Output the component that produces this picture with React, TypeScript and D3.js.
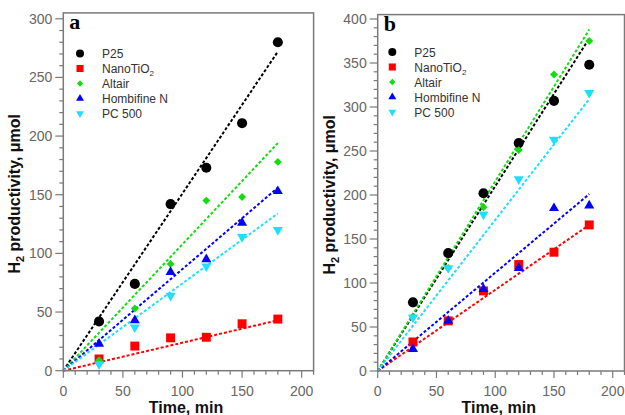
import React from "react";
import * as d3 from "d3";

const times = [30, 60, 90, 120, 150, 180];
const seriesNames = ["P25", "NanoTiO2", "Altair", "Hombifine N", "PC 500"];
const seriesColors = ["#000000", "#ff0000", "#11dd11", "#0000ff", "#22ddff"];
const seriesShapes = ["circle", "square", "diamond", "up", "down"];

// Panel a values
const aP25 = [42, 74, 142, 173, 211, 280];
const aNano = [10, 21, 28, 28.5, 40, 44];
const aAltair = [9, 53, 91, 145, 148, 178];
const aHombi = [23, 43, 84, 95, 126, 153];
const aPC500 = [5.5, 37, 64, 89, 114, 120];
// Fit line values at t = 180 (panel a)
const aFitEnd = [272, 43, 194, 156, 134];

// Panel b values
const bP25 = [78, 134, 202, 259, 307, 348];
const bNano = [33, 57, 91, 121, 135, 166];
const bAltair = [62, 117, 186, 251, 337, 375];
const bHombi = [25, 57, 93, 117, 185, 188];
const bPC500 = [61, 117, 178, 218, 263, 316];
const bFitEnd = [378, 166, 388, 201, 309];

const xTicks = [0, 50, 100, 150, 200];
const aYTicks = [0, 50, 100, 150, 200, 250, 300];
const bYTicks = [0, 50, 100, 150, 200, 250, 300, 350, 400];

const fitStart = 0;
const fitStop = 180;

const symbolMap: any = {
  circle: d3.symbolCircle,
  square: d3.symbolSquare,
  diamond: d3.symbolDiamond2,
  up: d3.symbolTriangle,
  down: d3.symbolTriangle,
};
const areaFactor: any = { circle: 1, square: 1, diamond: 0.5, up: 0.55, down: 0.55 };

function Marker({ shape, color, x, y, size }: any) {
  const rot = shape === "down" ? 180 : 0;
  const d = d3.symbol(symbolMap[shape], size * areaFactor[shape])() as string;
  return <path d={d} transform={`translate(${x},${y}) rotate(${rot})`} fill={color} />;
}

function Panel({ label, series, fitEnd, yMax, yTicks, x0, x1, y0, y1, titleX, legendX, legendY }: any) {
  const x = d3.scaleLinear().domain([0, 210]).range([x0, x1]);
  const y = d3.scaleLinear().domain([0, yMax]).range([y0, y1]);
  const gray = "#7a7a7a";
  const minorX = d3.range(0, 211, 10);
  const minorY = d3.range(0, yMax + 1, 10);
  const line = d3.line<[number, number]>().x((d) => x(d[0])).y((d) => y(d[1]));
  const midY = (y0 + y1) / 2;
  return (
    <g>
      {fitEnd.map((v: number, i: number) => (
        <path
          key={"f" + i}
          d={line([
            [fitStart, 0],
            [fitStop, v],
          ]) as string}
          stroke={seriesColors[i]}
          strokeWidth={2}
          strokeDasharray="3,2"
          fill="none"
        />
      ))}
      {series.map((vals: number[], i: number) =>
        vals.map((v, j) => (
          <Marker key={`m${i}-${j}`} shape={seriesShapes[i]} color={seriesColors[i]} x={x(times[j])} y={y(v)} size={80} />
        ))
      )}
      <rect x={x0} y={y1} width={x1 - x0} height={y0 - y1} fill="none" stroke={gray} strokeWidth={1.5} />
      {minorX.map((t) => (
        <line key={"xt" + t} x1={x(t)} x2={x(t)} y1={y0} y2={y0 + (t % 50 === 0 ? 7 : 4)} stroke={gray} strokeWidth={1.2} />
      ))}
      {xTicks.map((t) => (
        <text key={"xl" + t} x={x(t)} y={396} textAnchor="middle" fontSize={14} fill="#666" fontFamily="Liberation Sans, Arial, sans-serif">
          {t}
        </text>
      ))}
      {minorY.map((t) => (
        <line key={"yt" + t} x1={x0} x2={x0 - (t % 50 === 0 ? 8 : 4)} y1={y(t)} y2={y(t)} stroke={gray} strokeWidth={1.2} />
      ))}
      {yTicks.map((t: number) => (
        <text key={"yl" + t} x={x0 - 11} y={y(t) + 5} textAnchor="end" fontSize={14} fill="#666" fontFamily="Liberation Sans, Arial, sans-serif">
          {t}
        </text>
      ))}
      <text x={(x(0) + x(200)) / 2 + 3.5} y={413} textAnchor="middle" fontSize={16} fontWeight="bold" fill="#111" fontFamily="Liberation Sans, Arial, sans-serif">
        Time, min
      </text>
      <text transform={`translate(${titleX},${midY + 2}) rotate(-90)`} textAnchor="middle" fontSize={16} fontWeight="bold" fill="#111" fontFamily="Liberation Sans, Arial, sans-serif">
        H<tspan fontSize={11} dy={4}>2</tspan><tspan dy={-4}> productivity, μmol</tspan>
      </text>
      <text x={x0 + 6} y={y1 + 16} fontSize={22} fontWeight="bold" fontFamily="Liberation Serif, Times New Roman, serif" fill="#000">
        {label}
      </text>
      {seriesNames.map((n, i) => (
        <g key={"lg" + i}>
          <Marker shape={seriesShapes[i]} color={seriesColors[i]} x={legendX} y={legendY + i * 15} size={50} />
          <text x={legendX + 22} y={legendY + i * 15 + 4.5} fontSize={12} fill="#333" fontFamily="Liberation Sans, Arial, sans-serif">
            {n === "NanoTiO2" ? (
              <>
                NanoTiO<tspan fontSize={8} dy={3}>2</tspan>
              </>
            ) : (
              n
            )}
          </text>
        </g>
      ))}
    </g>
  );
}

export default function App() {
  return (
    <svg width={625} height={415} style={{ position: "absolute", left: 0, top: 0, background: "#fff" }}>
      <rect width={625} height={415} fill="#fff" />
      <Panel
        label="a"
        series={[aP25, aNano, aAltair, aHombi, aPC500]}
        fitEnd={aFitEnd}
        yMax={305}
        yTicks={aYTicks}
        x0={63.3}
        x1={313.6}
        y0={370.7}
        y1={12.9}
        titleX={20}
        legendX={80}
        legendY={53.5}
      />
      <Panel
        label="b"
        series={[bP25, bNano, bAltair, bHombi, bPC500]}
        fitEnd={bFitEnd}
        yMax={405}
        yTicks={bYTicks}
        x0={377.7}
        x1={624.5}
        y0={371}
        y1={14.6}
        titleX={335}
        legendX={392.3}
        legendY={52}
      />
    </svg>
  );
}
